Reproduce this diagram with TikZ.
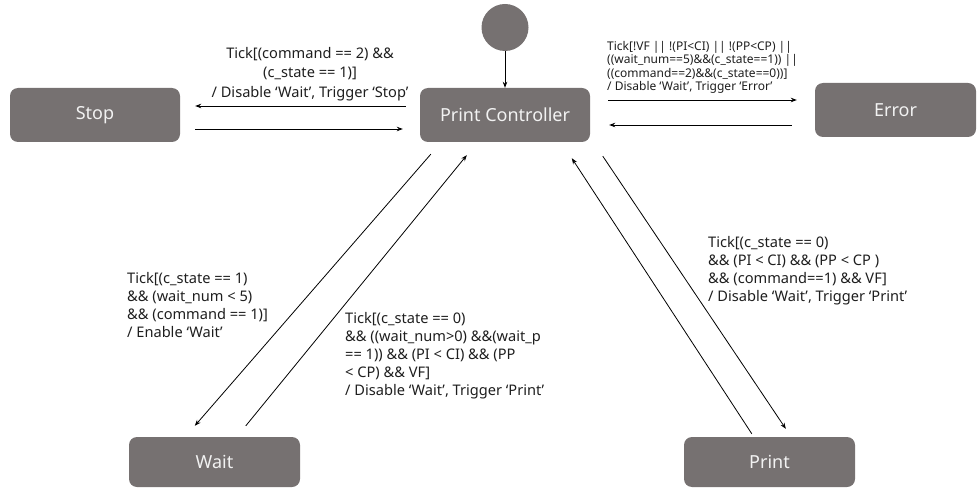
\documentclass[tikz,border=0pt]{standalone}
\usepackage{fontspec}
\setmainfont{Noto Sans}
\usetikzlibrary{arrows.meta,calc}
\definecolor{boxgray}{RGB}{118,113,113}
\definecolor{boxtext}{RGB}{242,242,242}
\definecolor{labtext}{RGB}{30,30,30}
\begin{document}
\begin{tikzpicture}[x=1pt,y=-1pt,
  state/.style={rectangle, rounded corners=8pt, fill=boxgray, text=boxtext,
    font=\fontsize{18}{22}\selectfont, minimum width=170pt, minimum height=54pt, inner sep=0pt},
  initstate/.style={circle, fill=boxgray, minimum size=47pt, inner sep=0pt},
  arr/.style={draw=black, line width=0.8pt, -{Stealth[length=6pt,width=4.5pt]}},
  lab/.style={font=\fontsize{14.6}{18}\selectfont, inner sep=0pt, align=left, anchor=north west, text=labtext},
  smalllab/.style={font=\fontsize{12}{13.5}\selectfont, inner sep=0pt, align=left, anchor=north west, text=labtext}]
\useasboundingbox (0,0) rectangle (979,489);

% states
\node[initstate] (init) at (505,27.5) {};
\node[state] (stop) at (95,115) {Stop};
\node[state] (pc) at (505,115) {Print Controller};
\node[state, minimum width=161pt] (err) at (895.5,110) {Error};
\node[state, minimum width=171pt, minimum height=50pt] (wait) at (214.5,462) {Wait};
\node[state, minimum width=171pt, minimum height=50pt] (print) at (769.5,462) {Print};

% connectors
\draw[arr] (init.south) -- (pc.north);
\draw[arr] ([shift={(-14,-9)}]pc.west) -- ([shift={(15,-9)}]stop.east);
\draw[arr] ([shift={(15,14)}]stop.east) -- ([shift={(-17,14)}]pc.west);
\draw[arr] ([shift={(18,-15)}]pc.east) -- ([shift={(-18,-10)}]err.west);
\draw[arr] ([shift={(-23,15)}]err.west) -- ([shift={(19,10)}]pc.east);
\draw[arr] ([shift={(11,12)}]pc.south west) -- ([shift={(66,-11)}]wait.north west);
\draw[arr] ([shift={(117,-11)}]wait.north west) -- ([shift={(47,13)}]pc.south west);
\draw[arr] ([shift={(68,-3)}]print.north west) -- ([shift={(152,16)}]pc.south west);
\draw[arr] ([shift={(183,14)}]pc.south west) -- ([shift={(102,-8)}]print.north west);

% labels
\node[lab, anchor=north, align=center, font=\fontsize{14.6}{19.5}\selectfont] (lstop) at (310,47)
  {Tick[(command == 2) \&\&\\(c\_state == 1)]\\/ Disable ‘Wait’, Trigger ‘Stop’};
\node[smalllab] (lerr) at (607,41)
  {Tick[!VF || !(PI<CI) || !(PP<CP) ||\\((wait\_num==5)\&\&(c\_state==1)) ||\\((command==2)\&\&(c\_state==0))]\\/ Disable ‘Wait’, Trigger ‘Error’};
\node[lab] (lwait) at (127,272)
  {Tick[(c\_state == 1)\\\&\& (wait\_num < 5)\\\&\& (command == 1)]\\/ Enable ‘Wait’};
\node[lab] (lwp) at (345,312)
  {Tick[(c\_state == 0)\\\&\& ((wait\_num>0) \&\&(wait\_p\\== 1)) \&\& (PI < CI) \&\& (PP\\< CP) \&\& VF]\\/ Disable ‘Wait’, Trigger ‘Print’};
\node[lab] (lprint) at (708,236)
  {Tick[(c\_state == 0)\\\&\& (PI < CI) \&\& (PP < CP )\\\&\& (command==1) \&\& VF]\\/ Disable ‘Wait’, Trigger ‘Print’};
\end{tikzpicture}
\end{document}
